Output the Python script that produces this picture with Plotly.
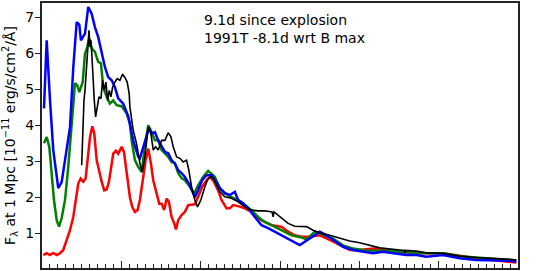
import plotly.graph_objects as go

# Wavelength (Angstrom) and flux (1e-11 erg/s/cm2/A)
blue_wl = [3025, 3059, 3101, 3142, 3205, 3248, 3290, 3353, 3394, 3437, 3470, 3491, 3542, 3583, 3626,
           3667, 3709, 3752, 3793, 3835, 3878, 3919, 3961, 4024, 4087, 4150, 4213, 4234, 4297, 4348,
           4382, 4423, 4465, 4508, 4549, 4591, 4633, 4675, 4717, 4759, 4801, 4864, 4927, 4968, 5019,
           5074, 5137, 5179, 5242, 5305, 5368, 5431, 5472, 5535, 5598, 5683, 5767, 5850, 5934, 6019,
           6102, 6186, 6249, 6375, 6501, 6586, 6669, 6795, 6921, 7089, 7172, 7298, 7424, 7593, 7719,
           7845, 8054, 8264, 8475, 8684, 8895, 8979]
blue_fl = [4.47, 6.36, 4.69, 3.31, 2.25, 2.42, 3.03, 3.94, 5.60, 6.87, 6.80, 6.36, 6.55, 7.29, 7.10,
           6.73, 6.45, 6.00, 5.62, 5.34, 5.25, 5.06, 4.75, 4.60, 4.25, 3.58, 3.12, 3.08, 3.58, 3.92,
           3.77, 3.81, 3.58, 3.40, 3.26, 3.22, 3.03, 2.94, 2.75, 2.67, 2.56, 2.33, 2.00, 2.19, 2.47,
           2.61, 2.61, 2.47, 2.25, 2.11, 2.06, 2.15, 1.92, 1.83, 1.69, 1.45, 1.22, 1.14, 1.04, 0.94,
           0.86, 0.76, 0.67, 0.85, 1.04, 0.94, 0.81, 0.62, 0.53, 0.48, 0.44, 0.48, 0.45, 0.39, 0.39,
           0.34, 0.39, 0.30, 0.25, 0.25, 0.23, 0.20]

green_wl = [3025, 3059, 3092, 3122, 3151, 3185, 3214, 3248, 3290, 3331, 3374, 3416, 3445, 3470, 3513,
            3542, 3571, 3596, 3626, 3667, 3709, 3743, 3772, 3815, 3856, 3898, 3941, 4004, 4067, 4108,
            4130, 4171, 4213, 4256, 4297, 4339, 4382, 4423, 4465, 4508, 4549, 4591, 4633, 4675, 4717,
            4759, 4801, 4864, 4918, 4968, 5031, 5094, 5157, 5179, 5242, 5305, 5389, 5472, 5557, 5641,
            5724, 5808, 5893, 5976, 6060, 6145, 6271, 6334, 6438, 6501, 6669, 6795, 6921, 7089, 7424,
            7719, 8054, 8264, 8475, 8684, 8979]
green_fl = [3.50, 3.67, 3.40, 2.67, 1.92, 1.36, 1.18, 1.42, 1.92, 2.84, 3.95, 5.17, 5.11, 4.92, 5.20,
            5.99, 6.18, 6.41, 6.14, 6.04, 5.76, 5.72, 5.06, 4.79, 4.60, 4.69, 4.56, 4.53, 4.33, 4.06,
            3.58, 3.03, 2.84, 2.70, 3.40, 4.00, 3.81, 3.58, 3.58, 3.31, 3.22, 3.12, 2.98, 2.94, 2.67,
            2.53, 2.47, 2.29, 2.10, 2.33, 2.56, 2.73, 2.61, 2.56, 2.25, 2.11, 2.00, 1.92, 1.78, 1.64,
            1.45, 1.31, 1.22, 1.13, 1.04, 0.94, 0.88, 0.82, 1.04, 0.99, 0.85, 0.66, 0.57, 0.52, 0.50,
            0.45, 0.44, 0.36, 0.32, 0.29, 0.24]

black_wl = [3500, 3513, 3529, 3542, 3563, 3576, 3592, 3605, 3617, 3630, 3646, 3659, 3676, 3697, 3718,
            3743, 3764, 3785, 3806, 3827, 3848, 3869, 3890, 3919, 3948, 3982, 4016, 4045, 4074, 4099,
            4108, 4150, 4192, 4234, 4263, 4297, 4339, 4373, 4402, 4432, 4465, 4508, 4549, 4591, 4625,
            4654, 4697, 4738, 4780, 4822, 4851, 4885, 4927, 4961, 5002, 5053, 5094, 5137, 5179, 5242,
            5305, 5389, 5472, 5557, 5641, 5724, 5808, 5900, 5913, 5925, 6019, 6102, 6186, 6271, 6334,
            6417, 6501, 6627, 6753, 6879, 7005, 7131, 7257, 7424, 7565, 7572, 7580, 7719, 7845, 8054,
            8264, 8475, 8684, 8895, 8979]
black_fl = [2.89, 3.77, 4.69, 4.97, 5.80, 6.08, 6.64, 6.18, 6.36, 5.90, 5.16, 4.69, 4.23, 4.51, 4.79,
            4.74, 5.25, 4.97, 5.20, 4.69, 4.97, 4.79, 5.06, 5.20, 5.30, 5.25, 5.42, 5.33, 5.20, 4.88,
            4.51, 3.86, 3.49, 2.94, 2.70, 3.12, 3.95, 3.77, 3.31, 3.40, 3.31, 3.58, 3.58, 3.79, 3.68,
            3.40, 3.12, 3.08, 2.98, 3.03, 2.75, 2.29, 1.92, 1.73, 1.92, 2.29, 2.52, 2.58, 2.43, 2.15,
            2.01, 1.97, 1.87, 1.73, 1.64, 1.62, 1.62, 1.59, 1.45, 1.59, 1.41, 1.27, 1.19, 1.18, 1.18,
            1.08, 1.01, 0.94, 0.85, 0.78, 0.73, 0.67, 0.59, 0.55, 0.52, 0.44, 0.52, 0.50, 0.45, 0.44,
            0.36, 0.32, 0.30, 0.27, 0.25]

red_wl = [3016, 3059, 3101, 3142, 3185, 3227, 3268, 3311, 3353, 3394, 3428, 3457, 3487, 3520, 3550,
          3576, 3605, 3634, 3659, 3689, 3722, 3752, 3785, 3815, 3844, 3869, 3898, 3932, 3961, 4004,
          4033, 4058, 4087, 4108, 4137, 4171, 4205, 4234, 4276, 4306, 4339, 4373, 4402, 4445, 4478,
          4508, 4540, 4571, 4600, 4633, 4667, 4688, 4717, 4759, 4801, 4843, 4885, 4927, 4968, 5019,
          5074, 5116, 5157, 5220, 5263, 5326, 5368, 5409, 5472, 5557, 5641, 5724, 5808, 5893, 6019,
          6102, 6186, 6271, 6375, 6501, 6627, 6753, 6879, 7005, 7172, 7341, 7509, 7719, 8054, 8475,
          8979]
red_fl = [0.39, 0.44, 0.39, 0.45, 0.39, 0.44, 0.53, 0.81, 1.08, 1.45, 1.92, 2.38, 2.52, 2.43, 2.52,
          3.03, 3.67, 3.97, 3.77, 3.03, 2.66, 2.43, 2.19, 2.21, 2.43, 2.84, 3.21, 3.29, 3.21, 3.40,
          3.26, 2.84, 2.40, 2.00, 1.73, 1.59, 1.64, 1.92, 2.56, 3.03, 3.35, 2.94, 2.47, 2.10, 1.82,
          1.82, 1.64, 1.96, 1.87, 1.45, 1.27, 1.10, 1.36, 1.50, 1.59, 1.78, 1.80, 1.80, 2.01, 2.29,
          2.47, 2.56, 2.47, 2.19, 1.92, 1.69, 1.69, 1.78, 1.75, 1.69, 1.59, 1.41, 1.31, 1.22, 1.18,
          1.04, 0.94, 0.90, 0.90, 0.94, 0.81, 0.67, 0.53, 0.53, 0.57, 0.53, 0.48, 0.44, 0.44, 0.30,
          0.18]

annotation_lines = ["9.1d since explosion", "1991T -8.1d wrt B max"]
y_title = "F<sub>λ</sub> at 1 Mpc [10<sup>−11</sup> erg/s/cm<sup>2</sup>/Å]"
x_minor_ticks = list(range(3000, 9001, 100))

FONT = "DejaVu Sans"

fig = go.Figure()
fig.add_trace(go.Scatter(x=red_wl, y=red_fl, mode="lines", line=dict(color="#ff0000", width=2.5), showlegend=False))
fig.add_trace(go.Scatter(x=green_wl, y=green_fl, mode="lines", line=dict(color="#008000", width=2.5), showlegend=False))
fig.add_trace(go.Scatter(x=blue_wl, y=blue_fl, mode="lines", line=dict(color="#0000ff", width=2.5), showlegend=False))
fig.add_trace(go.Scatter(x=black_wl, y=black_fl, mode="lines", line=dict(color="#000000", width=1.6), showlegend=False))

fig.add_annotation(
    text="<br>".join(annotation_lines), xref="paper", yref="paper", x=0.336, y=0.975,
    xanchor="left", yanchor="top", align="left", showarrow=False,
    font=dict(family=FONT, size=14, color="black"),
)

fig.update_layout(
    width=538, height=271,
    margin=dict(l=42, r=20, t=3, b=3, autoexpand=False),
    paper_bgcolor="white", plot_bgcolor="white",
    font=dict(family=FONT, size=14, color="black"),
    xaxis=dict(
        range=[3000, 9000], showgrid=False, zeroline=False, automargin=False,
        showline=True, linecolor="#222", linewidth=2, mirror=True,
        ticks="inside", ticklen=7, tickwidth=1, tickcolor="#222", dtick=1000, tick0=3000,
        showticklabels=False,
        minor=dict(ticks="inside", ticklen=4, tickvals=x_minor_ticks, tickcolor="#222", tickwidth=1),
    ),
    yaxis=dict(
        range=[0.03, 7.4], showgrid=False, zeroline=False, automargin=False,
        showline=True, linecolor="#222", linewidth=2, mirror=True,
        ticks="outside", ticklen=5, tickcolor="#222", tickwidth=1,
        tickvals=[1, 2, 3, 4, 5, 6, 7], ticklabelstandoff=-2,
        tickfont=dict(family=FONT, size=14),
        title=dict(text=y_title, font=dict(family=FONT, size=14), standoff=6),
    ),
)

fig.write_html(
    "out.html",
    config={"displayModeBar": False},
    post_script="document.body.style.margin='0px';document.body.style.overflow='hidden';",
)
